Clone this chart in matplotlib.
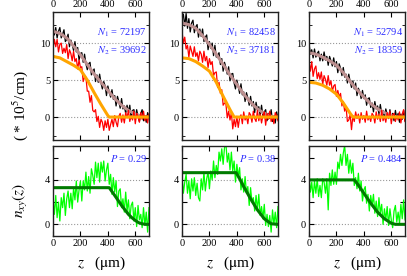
import numpy as np
import matplotlib
matplotlib.use("Agg")
import matplotlib.pyplot as plt

plt.rcParams['font.family'] = ['Liberation Serif', 'DejaVu Serif']
plt.rcParams['mathtext.fontset'] = 'stix'

# depth grid of the measured profiles (um)
z = np.arange(0, 710, 10)

# ---- measured densities (*10^5/cm), one column per sample ----
black1 = [11.9, 11.1, 12.1, 10.7, 11.6, 12.1, 10.7, 11.2, 11.8, 10.2, 10.5,
          11.2, 9.5, 10.4, 9.8, 9.0, 10.2, 8.8, 9.4, 7.7, 8.6,
          8.7, 7.4, 8.5, 7.2, 6.4, 7.2, 7.4, 5.7, 6.2, 6.5,
          4.8, 5.7, 4.7, 5.8, 4.6, 3.8, 4.8, 4.2, 2.9, 4.2,
          3.4, 2.7, 3.7, 2.4, 2.9, 1.5, 2.8, 2.1, 1.2, 2.5,
          1.1, 1.5, 0.5, 1.6, 0.7, 1.6, -0.2, 0.9, 1.0, -0.2,
          1.0, 0.1, -0.6, 0.5, 1.0, -0.5, 0.2, -0.7, 0.6, 0.0]
red1 = [9.3, 10.5, 9.5, 10.5, 8.8, 9.8, 10.0, 8.6, 9.3, 8.7, 9.8,
        7.9, 9.1, 8.6, 7.6, 8.9, 7.5, 7.9, 6.5, 7.7, 6.7,
        6.8, 4.8, 5.4, 5.4, 3.5, 3.5, 2.0, 2.9, 0.9, 0.7,
        1.0, -0.6, 0.1, -1.4, -0.3, -0.7, -1.8, -0.5, -1.4, -0.3,
        -1.8, -1.0, -0.3, -1.3, 0.2, -0.7, -1.3, 0.1, 0.5, -0.7,
        0.3, -0.8, 0.6, -0.1, 0.9, -0.6, 0.2, -0.4, 0.8, -0.9,
        0.5, 0.1, -0.7, 0.6, -0.3, 0.8, -0.5, 0.2, -0.8, 0.4]
black2 = [13.3, 13.9, 12.3, 14.0, 12.0, 13.3, 11.5, 12.7, 13.1, 11.4, 12.2,
          12.5, 10.8, 11.9, 10.9, 11.9, 10.2, 10.8, 11.1, 9.1, 10.2,
          9.3, 10.0, 8.3, 9.7, 8.1, 8.3, 8.7, 7.1, 7.9, 6.2,
          7.4, 6.7, 5.8, 6.8, 4.9, 5.8, 5.9, 4.6, 3.8, 5.0,
          4.2, 3.2, 4.5, 3.0, 3.4, 2.1, 3.3, 2.6, 1.6, 2.8,
          1.5, 2.1, 0.6, 2.0, 1.0, 1.4, 0.2, 1.6, 0.1, 0.7,
          1.0, -0.5, 0.5, -0.2, 1.0, -0.6, 0.1, -0.8, 0.7, -0.3]
red2 = [11.6, 10.0, 10.8, 9.2, 9.7, 8.1, 9.6, 8.9, 8.2, 9.5, 8.2,
        8.7, 7.6, 8.9, 8.5, 7.4, 8.9, 7.6, 8.2, 6.7, 7.9,
        7.1, 7.5, 5.6, 6.0, 6.1, 4.0, 4.7, 3.2, 3.7, 1.6,
        1.9, 1.8, -0.1, 0.8, -0.4, 0.6, -1.6, -0.3, -1.3, 0.1,
        -1.4, -0.1, 0.3, -0.9, 0.7, -0.4, 0.1, -0.9, 0.6, 0.3,
        -0.7, 0.8, -0.2, -0.6, 0.9, -0.5, 0.4, -0.8, 0.2, 0.7,
        -1.1, 0.5, -0.3, 0.8, -0.6, 0.1, -0.9, 0.6, 0.2, -0.5]
black3 = [10.0, 8.5, 9.1, 8.0, 9.2, 8.1, 8.6, 8.9, 7.6, 8.5, 7.6,
          8.8, 7.7, 8.2, 7.0, 8.2, 7.6, 6.9, 8.0, 6.8, 7.5,
          6.0, 7.2, 6.6, 5.6, 6.7, 5.4, 5.8, 4.6, 5.8, 4.8,
          4.0, 4.9, 3.8, 4.6, 2.9, 3.9, 3.4, 2.5, 3.6, 2.5,
          3.0, 1.6, 2.5, 2.6, 1.3, 1.9, 0.7, 2.1, 1.1, 1.5,
          0.4, 1.7, 0.5, 0.9, -0.1, 1.1, 0.4, -0.2, 1.0, -0.2,
          0.5, -0.5, 0.9, -0.2, 0.5, -0.7, 0.4, -0.3, 0.9, -0.5]
red3 = [7.6, 6.2, 7.5, 5.5, 6.5, 6.9, 5.2, 6.0, 5.1, 6.1, 4.4,
        5.6, 5.1, 4.3, 5.6, 4.3, 4.9, 3.5, 4.2, 4.4, 2.8,
        3.6, 2.7, 3.2, 1.5, 2.1, 0.8, 1.4, -0.6, -0.4, 0.3,
        -1.7, 0.2, -0.6, 0.7, -0.2, 0.4, -0.8, 0.6, -0.3, 0.2,
        -0.7, 0.8, -0.4, 0.1, -0.6, 0.5, 0.2, -0.8, 0.7, -0.3,
        0.4, -0.6, 0.9, -0.5, 0.1, -0.7, 0.6, -0.2, 0.8, -0.9,
        0.3, 0.5, -0.6, 0.2, -0.4, 0.7, -0.8, 0.4, 1.0, -0.6]

# ---- n_xy(z) profiles ----
green1 = [2.3, 0.9, 2.6, 0.6, 2.0, 0.3, 2.4, 1.5, 2.8, 0.8, 2.3,
          3.0, 1.5, 2.8, 1.4, 3.3, 2.2, 3.9, 2.0, 3.1, 3.9,
          2.1, 3.9, 3.1, 4.7, 3.0, 4.3, 2.8, 5.0, 4.4, 3.6,
          5.6, 4.2, 5.5, 3.8, 5.6, 4.7, 5.7, 3.9, 4.9, 5.5,
          3.6, 4.5, 2.7, 4.2, 2.9, 3.9, 1.6, 3.0, 3.2, 1.5,
          2.3, 1.1, 2.9, 1.2, 2.2, 0.5, 1.7, 2.0, 0.3, 1.5,
          -0.2, 1.7, 0.4, 0.9, -0.3, 1.5, -0.1, 1.1, -0.7, 1.5]
green2 = [4.3, 2.8, 3.8, 4.5, 2.8, 3.9, 2.3, 4.1, 3.0, 4.2, 2.6,
          3.7, 2.4, 2.1, 4.1, 3.1, 4.7, 3.0, 4.1, 4.7, 3.2,
          4.8, 4.0, 5.7, 4.2, 5.3, 4.5, 6.5, 5.7, 6.8, 5.4,
          6.9, 7.3, 5.6, 6.4, 4.9, 6.5, 4.8, 5.7, 3.8, 5.4,
          4.3, 5.1, 3.1, 4.1, 2.9, 4.3, 2.8, 3.4, 1.7, 3.3,
          2.0, 2.4, 1.2, 2.6, 1.3, 2.7, 0.8, 1.6, 0.5, 1.8,
          -0.1, 0.9, -0.2, 0.8, -0.7, 1.3, 0.0, 1.1, -0.3, 1.6]
green3 = [4.5, 2.9, 3.8, 2.4, 3.9, 2.8, 4.1, 2.5, 3.5, 2.4, 4.1,
          3.8, 2.8, 4.1, 1.3, 4.6, 3.5, 4.9, 3.6, 4.7, 3.6,
          5.6, 5.0, 6.3, 5.3, 6.4, 7.1, 5.3, 6.3, 4.6, 5.8,
          4.6, 5.5, 3.5, 4.2, 3.2, 4.6, 3.0, 3.9, 2.1, 3.1,
          3.4, 1.9, 2.7, 1.2, 2.6, 1.7, 2.7, 1.0, 2.1, 0.7,
          2.4, 1.0, 1.8, 0.0, 1.4, 0.4, 1.6, -0.1, 1.4, 0.4,
          -0.3, 1.2, 1.7, 0.2, 1.1, 0.1, 1.8, 0.5, 2.2, 0.4]

# ---- fitted curves ----
zf_tot = [0, 50, 100, 150, 200, 250, 300, 350, 400, 450, 500, 550, 600, 650, 700]
fit_tot1 = [11.6, 11.3, 10.7, 9.6, 8.4, 7.1, 5.8, 4.7, 3.6, 2.5, 1.6, 0.9, 0.4, 0.1, 0.0]
fit_tot2 = [12.7, 12.5, 12.0, 11.0, 9.8, 8.5, 7.1, 5.7, 4.4, 3.1, 2.0, 1.1, 0.5, 0.1, 0.0]
fit_tot3 = [8.7, 8.5, 8.1, 7.6, 7.0, 6.0, 4.8, 3.7, 2.7, 1.8, 1.1, 0.6, 0.2, 0.0, 0.0]

zf_sub1 = [0, 50, 100, 150, 200, 250, 300, 350, 400, 410, 700]
fit_sub1 = [8.2, 8.0, 7.5, 7.0, 6.4, 5.0, 3.3, 1.7, 0.2, 0.0, 0.0]
zf_sub2 = [0, 50, 100, 150, 200, 250, 300, 350, 380, 700]
fit_sub2 = [8.0, 7.9, 7.5, 6.9, 6.2, 4.7, 2.8, 1.0, 0.0, 0.0]
zf_sub3 = [0, 50, 100, 150, 200, 250, 300, 320, 700]
fit_sub3 = [4.7, 4.6, 4.3, 3.8, 3.1, 1.9, 0.5, 0.0, 0.0]

zf_n1 = [0, 410, 430, 450, 475, 500, 525, 550, 575, 600, 625, 650, 675, 700]
fit_n1 = [3.3, 3.3, 2.95, 2.6, 2.15, 1.7, 1.3, 0.9, 0.6, 0.35, 0.15, 0.05, 0.0, 0.0]
zf_n2 = [0, 395, 420, 450, 500, 550, 600, 650, 700]
fit_n2 = [4.65, 4.65, 4.1, 3.4, 2.3, 1.3, 0.5, 0.05, 0.0]
zf_n3 = [0, 330, 350, 400, 450, 500, 550, 600, 630, 700]
fit_n3 = [4.0, 4.0, 3.7, 2.8, 1.9, 1.1, 0.5, 0.1, 0.0, 0.0]

N1_labels = ['72197', '82458', '52794']
N2_labels = ['39692', '37181', '18359']
P_labels = ['0.29', '0.38', '0.484']

tot = [black1, black2, black3]
sub = [red1, red2, red3]
nxy = [green1, green2, green3]
fits_tot = [fit_tot1, fit_tot2, fit_tot3]
fits_sub = [(zf_sub1, fit_sub1), (zf_sub2, fit_sub2), (zf_sub3, fit_sub3)]
fits_n = [(zf_n1, fit_n1), (zf_n2, fit_n2), (zf_n3, fit_n3)]

W, H = 407, 276
fig = plt.figure(figsize=(W / 100, H / 100), dpi=100)
lefts = [53, 182, 309]
pw = 96
txt_blue = '#2a2aff'


def style(ax, labeltop):
    ax.set_xlim(0, 700)
    ax.set_xticks([0, 200, 400, 600])
    ax.tick_params(direction='in', top=True, right=True, length=3.5,
                   width=0.8, labelsize=7.5, pad=2,
                   labeltop=labeltop, labelbottom=not labeltop)
    for s in ax.spines.values():
        s.set_linewidth(1.0)
        s.set_color('#222222')


for i in range(3):
    x0 = lefts[i] / W
    ax1 = fig.add_axes([x0, (H - 140) / H, pw / W, 128 / H])
    ax2 = fig.add_axes([x0, (H - 236) / H, pw / W, 90 / H])

    # top: densities
    for yv in [0, 5, 10]:
        ax1.axhline(yv, color='#999999', lw=0.8, ls=':', zorder=0)
    ax1.plot(z, tot[i], color='black', lw=0.9)
    ax1.plot(zf_tot, fits_tot[i], color='#bc8f8f', lw=2.2)
    ax1.plot(z, sub[i], color='red', lw=0.9)
    ax1.plot(fits_sub[i][0], fits_sub[i][1], color='orange', lw=2.2)
    ax1.set_ylim(-3.1, 14.2)
    ax1.set_yticks([0, 5, 10])
    ax1.set_yticks([-2.5, 2.5, 7.5, 12.5], minor=True)
    ax1.tick_params(which='minor', direction='in', right=True, length=2, width=0.6)
    style(ax1, True)
    ax1.text(0.98, 0.84, '$N_1$ = ' + N1_labels[i], transform=ax1.transAxes,
             ha='right', va='center', color=txt_blue, fontsize=7.5)
    ax1.text(0.98, 0.70, '$N_2$ = ' + N2_labels[i], transform=ax1.transAxes,
             ha='right', va='center', color=txt_blue, fontsize=7.5)

    # bottom: n_xy
    for yv in [0, 4]:
        ax2.axhline(yv, color='#999999', lw=0.8, ls=':', zorder=0)
    ax2.plot(z, nxy[i], color='#00ff00', lw=0.9)
    ax2.plot(fits_n[i][0], fits_n[i][1], color='#007a00', lw=2.2)
    ax2.set_ylim(-1.05, 7.05)
    ax2.set_yticks([0, 2, 4, 6])
    ax2.set_yticklabels(['0', '', '4', ''])
    style(ax2, False)
    ax2.text(0.98, 0.86, '$P$ = ' + P_labels[i], transform=ax2.transAxes,
             ha='right', va='center', color=txt_blue, fontsize=7.5)

    fig.text((lefts[i] + pw / 2) / W, 1 - 263 / H, '$z$   ($\\mathrm{\\mu}$m)',
             ha='center', va='center', fontsize=11)

# y label in two pieces, as in the original
fig.text(20 / W, 1 - 200 / H, '$n_{xy}(z)$', rotation=90,
         ha='center', va='center', fontsize=11)
fig.text(20 / W, 1 - 105 / H, '( * 10$^5$/cm)', rotation=90,
         ha='center', va='center', fontsize=11)

fig.savefig('out.png', dpi=100)
